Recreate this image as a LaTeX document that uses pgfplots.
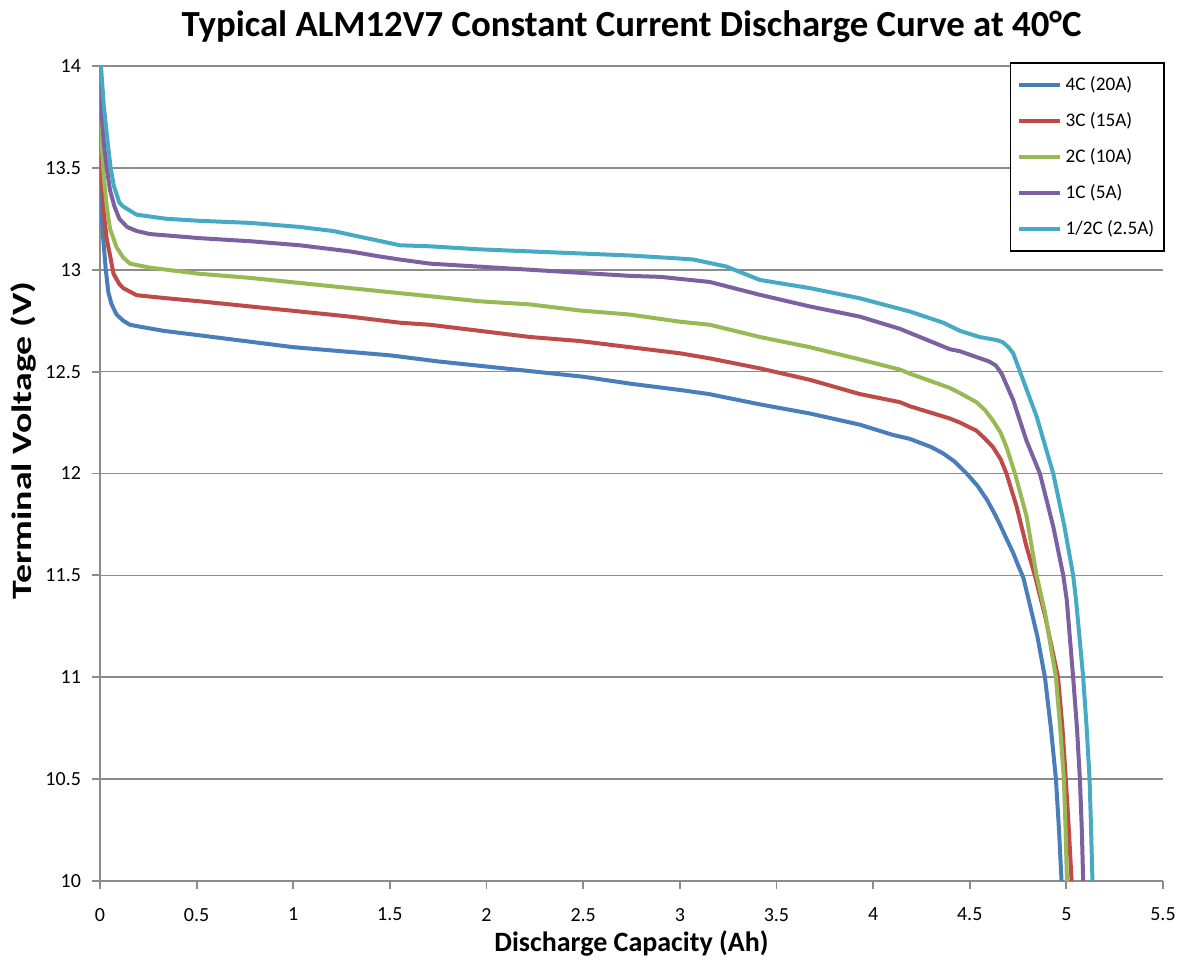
\documentclass[border=0pt]{standalone}
\usepackage{fontspec}
\setmainfont{Carlito}
\usepackage{graphicx}
\usepackage{pgfplots}
\pgfplotsset{compat=1.18}
\definecolor{cBlue}{HTML}{4A7EBB}
\definecolor{cRed}{HTML}{BE4B48}
\definecolor{cGreen}{HTML}{98B954}
\definecolor{cPurple}{HTML}{7D60A0}
\definecolor{cCyan}{HTML}{46AAC5}
\definecolor{gridgray}{HTML}{8C8C8C}
\begin{document}
\begin{tikzpicture}
\begin{axis}[
  name=main,
  scale only axis,
  width=531.5pt, height=407.5pt,
  xmin=0, xmax=5.5, ymin=10, ymax=14,
  xtick={0,0.5,...,5.5},
  ytick={10,10.5,...,14},
  axis x line*=bottom, axis y line*=left,
  axis line style={gridgray, line width=0.9pt, -},
  tick style={gridgray, line width=0.9pt},
  tick align=outside,
  major tick length=4pt,
  ymajorgrids,
  grid style={gridgray, line width=0.8pt},
  /pgf/number format/assume math mode=true,
  /pgf/number format/fixed,
  ticklabel style={font=\fontsize{10}{12}\selectfont, black},
  xticklabel style={yshift=-6pt},
  yticklabel style={xshift=-2pt},
  title={\bfseries Typical ALM12V7 Constant Current Discharge Curve at 40°C},
  title style={font=\fontsize{18.4}{22}\selectfont, at={(axis description cs:0.5,1)}, anchor=base, yshift=8.5pt},
  xlabel={\bfseries Discharge Capacity (Ah)},
  ylabel={\scalebox{1.35}[1]{\bfseries Terminal Voltage (V)}},
  label style={font=\fontsize{14}{16}\selectfont},
  xlabel style={at={(axis description cs:0.5,0)}, anchor=base, yshift=-35.5pt},
  ylabel style={at={(axis description cs:0,0.5)}, anchor=center, yshift=38.5pt, xshift=16.5pt},
  legend style={at={(1,1)}, anchor=north east, xshift=1pt, yshift=2pt, draw=black, line width=0.8pt,
    font=\fontsize{9.6}{11}\selectfont, row sep=5.4pt, inner xsep=3pt, inner ysep=5pt,
    nodes={inner xsep=2pt}},
  legend cell align=left,
  legend image code/.code={\draw[#1, line width=2pt] (0pt,0pt) -- (20.5pt,0pt);},
  clip=true,
  every axis plot/.append style={line width=2pt, line join=round},
]
\addplot[cBlue] coordinates {
(0,13.55) (0.005,13.35) (0.017,13.15) (0.03,13.0) (0.043,12.89) (0.06,12.83) (0.086,12.78)
(0.12,12.75) (0.155,12.73) (0.21,12.72) (0.33,12.70) (0.5,12.68) (0.75,12.65) (1.0,12.62)
(1.25,12.60) (1.5,12.58) (1.75,12.55) (2.0,12.525) (2.25,12.50) (2.5,12.475) (2.75,12.44)
(3.0,12.41) (3.15,12.39) (3.41,12.34) (3.67,12.295) (3.93,12.24) (4.1,12.19) (4.19,12.17)
(4.30,12.13) (4.36,12.1) (4.42,12.06) (4.484,12.0) (4.54,11.94) (4.59,11.87) (4.63,11.8)
(4.656,11.75) (4.69,11.68) (4.725,11.61) (4.75,11.55) (4.777,11.49) (4.805,11.38)
(4.85,11.2) (4.889,11.0) (4.92,10.75) (4.946,10.5) (4.962,10.25) (4.975,10.0) (4.98,9.9)
};
\addlegendentry{4C (20A)}
\addplot[cRed] coordinates {
(0,13.7) (0.01,13.45) (0.017,13.3) (0.035,13.15) (0.05,13.08) (0.07,12.98) (0.1,12.93)
(0.12,12.91) (0.19,12.875) (0.345,12.86) (0.517,12.845) (0.776,12.82) (1.034,12.795)
(1.293,12.77) (1.552,12.74) (1.707,12.73) (1.966,12.70) (2.224,12.67) (2.483,12.65)
(2.741,12.62) (3.0,12.59) (3.155,12.565) (3.414,12.516) (3.672,12.46) (3.931,12.39)
(4.139,12.35) (4.19,12.33) (4.397,12.27) (4.449,12.25) (4.535,12.21) (4.58,12.17) (4.62,12.13)
(4.66,12.07) (4.69,12.0) (4.742,11.84) (4.794,11.64) (4.837,11.5) (4.89,11.3) (4.957,11.0)
(4.98,10.75) (4.997,10.5) (5.013,10.25) (5.027,10.0) (5.03,9.9)
};
\addlegendentry{3C (15A)}
\addplot[cGreen] coordinates {
(0,13.85) (0.01,13.6) (0.02,13.45) (0.035,13.31) (0.052,13.2) (0.086,13.11) (0.12,13.06)
(0.155,13.03) (0.259,13.01) (0.517,12.98) (0.776,12.96) (1.034,12.935) (1.293,12.91)
(1.552,12.885) (1.707,12.87) (1.966,12.845) (2.224,12.83) (2.483,12.80) (2.741,12.78)
(3.0,12.745) (3.155,12.73) (3.414,12.67) (3.672,12.62) (3.931,12.56) (4.139,12.51)
(4.19,12.49) (4.397,12.42) (4.449,12.395) (4.535,12.35) (4.58,12.31) (4.62,12.26) (4.66,12.2)
(4.69,12.13) (4.734,12.0) (4.794,11.79) (4.846,11.5) (4.889,11.32) (4.946,11.0) (4.968,10.75)
(4.987,10.5) (4.996,10.25) (5.003,10.0) (5.005,9.9)
};
\addlegendentry{2C (10A)}
\addplot[cPurple] coordinates {
(0,13.95) (0.01,13.75) (0.02,13.62) (0.035,13.5) (0.052,13.39) (0.075,13.31) (0.1,13.25)
(0.14,13.21) (0.19,13.19) (0.259,13.175) (0.517,13.155) (0.776,13.14) (1.034,13.12)
(1.293,13.09) (1.448,13.065) (1.552,13.05) (1.707,13.03) (1.966,13.015) (2.224,13.0)
(2.483,12.985) (2.741,12.97) (2.9,12.965) (3.155,12.94) (3.414,12.877) (3.672,12.82)
(3.931,12.77) (4.139,12.71) (4.19,12.69) (4.397,12.61) (4.449,12.60) (4.6,12.55)
(4.635,12.53) (4.665,12.49) (4.725,12.36) (4.794,12.16) (4.863,12.0) (4.932,11.74) (4.984,11.5)
(5.002,11.38) (5.035,11.0) (5.055,10.75) (5.07,10.5) (5.08,10.25) (5.087,10.0) (5.09,9.9)
};
\addlegendentry{1C (5A)}
\addplot[cCyan] coordinates {
(0,14.1) (0.005,14.0) (0.02,13.8) (0.038,13.64) (0.055,13.5) (0.072,13.41) (0.1,13.33)
(0.12,13.31) (0.19,13.27) (0.345,13.25) (0.517,13.24) (0.776,13.23) (1.034,13.21)
(1.207,13.19) (1.379,13.155) (1.552,13.12) (1.707,13.115) (1.966,13.10) (2.224,13.09)
(2.483,13.08) (2.741,13.07) (3.0,13.055) (3.07,13.05) (3.24,13.016) (3.414,12.95)
(3.672,12.91) (3.931,12.86) (4.19,12.795) (4.363,12.74) (4.45,12.70) (4.55,12.67)
(4.639,12.655) (4.67,12.645) (4.70,12.62) (4.725,12.59) (4.76,12.5) (4.846,12.28) (4.932,12.0)
(4.99,11.74) (5.035,11.5) (5.05,11.38) (5.087,11.0) (5.105,10.75) (5.12,10.5)
(5.128,10.25) (5.135,10.0) (5.137,9.9)
};
\addlegendentry{1/2C (2.5A)}
\end{axis}
\pgfresetboundingbox
\path ([xshift=-50pt,yshift=-40pt]main.south west) rectangle ([xshift=11.5pt,yshift=33pt]main.north east);
\end{tikzpicture}
\end{document}
